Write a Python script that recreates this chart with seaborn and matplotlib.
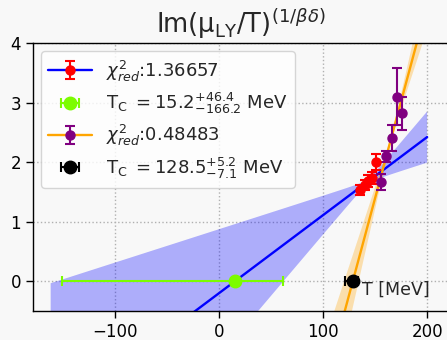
import numpy as np
import matplotlib
matplotlib.use('Agg')
import matplotlib.pyplot as plt
import seaborn as sns
from matplotlib.legend_handler import HandlerTuple

# ---------------- data ----------------
red_T = [135.0, 140.0, 143.5, 147.0, 150.5]
red_y = [1.53, 1.62, 1.68, 1.73, 2.00]
red_err = [0.08, 0.08, 0.10, 0.10, 0.14]

purple_T = [156.0, 160.3, 165.8, 170.6, 175.5]
purple_y = [1.67, 2.10, 2.40, 3.10, 2.82]
purple_err = [0.13, 0.09, 0.22, 0.48, 0.28]

# fit results (blue fit to red points, orange fit to purple points)
blue_Tc, blue_Tc_lo, blue_Tc_hi = 15.2, 166.2, 46.4
blue_slope, blue_slope_err, blue_pivot = 0.0131, 0.0075, 143.0
blue_range = [-162.0, 200.0]

orange_Tc, orange_Tc_lo, orange_Tc_hi = 128.5, 7.1, 5.2
orange_slope, orange_slope_err, orange_pivot = 0.065, 0.012, 165.0
orange_range = [105.0, 200.0]

labels = [r'$\chi^2_{red}$:1.36657',
          r'T$_{\rm C}$ $= 15.2^{+46.4}_{-166.2}$ MeV',
          r'$\chi^2_{red}$:0.48483',
          r'T$_{\rm C}$ $= 128.5^{+5.2}_{-7.1}$ MeV']
title = r'Im(μ$_{\rm LY}$/T)$^{(1/\beta\delta)}$'
x_ticks = [-100, 0, 100, 200]
y_ticks = [0, 1, 2, 3, 4]

# ---------------- styling ----------------
sns.set_theme(style='ticks')
plt.rcParams['font.family'] = ['DejaVu Sans']
bg = '#f8f8f8'

fig = plt.figure(figsize=(4.47, 3.40), dpi=100, facecolor=bg)
ax = fig.add_axes([0.0738, 0.0853, 0.9306, 0.7882])
ax.set_facecolor(bg)


def fit_curve(Tc, slope, slope_err, pivot, xr):
    x = np.linspace(xr[0], xr[1], 400)
    y = slope * (x - Tc)
    hw = np.sqrt((slope_err * (x - pivot)) ** 2 + 0.04 ** 2)
    return x, y, y - hw, y + hw


# blue fit + band
bx, by, blo, bhi = fit_curve(blue_Tc, blue_slope, blue_slope_err, blue_pivot, blue_range)
ax.fill_between(bx, blo, bhi, color='blue', alpha=0.3, lw=0, zorder=1)
sns.lineplot(x=bx, y=by, color='blue', lw=1.7, ax=ax, zorder=2)
blue_line = ax.lines[-1]

# orange fit + band
ox, oy, olo, ohi = fit_curve(orange_Tc, orange_slope, orange_slope_err, orange_pivot, orange_range)
ax.fill_between(ox, olo, ohi, color='orange', alpha=0.3, lw=0, zorder=1)
sns.lineplot(x=ox, y=oy, color='orange', lw=1.7, ax=ax, zorder=2)
orange_line = ax.lines[-1]

# data points
red_eb = ax.errorbar(red_T, red_y, yerr=red_err, fmt='o', color='red',
                     ms=6.5, elinewidth=1.5, capsize=3.5, capthick=1.5, zorder=4)
purple_eb = ax.errorbar(purple_T, purple_y, yerr=purple_err, fmt='o', color='purple',
                        ms=6.5, elinewidth=1.5, capsize=3.5, capthick=1.5, zorder=4)

# Tc estimates
green_eb = ax.errorbar([blue_Tc], [0], xerr=[[blue_Tc_lo], [blue_Tc_hi]], fmt='o',
                       color='lawngreen', ms=9, elinewidth=1.5, capsize=3.5,
                       capthick=1.5, zorder=5)
black_eb = ax.errorbar([orange_Tc], [0], xerr=[[orange_Tc_lo], [orange_Tc_hi]], fmt='o',
                       color='black', ms=9, elinewidth=1.5, capsize=3.5,
                       capthick=1.5, zorder=5)

ax.text(137.5, -0.14, 'T [MeV]', fontsize=12.5, ha='left', va='center', zorder=6)

ax.set_xlim(-179, 221)
ax.set_ylim(-0.5, 4)
ax.set_xticks(x_ticks)
ax.set_yticks(y_ticks)
ax.tick_params(axis='both', labelsize=12, length=5, width=1, color='black',
               direction='out', colors='black')
ax.grid(True, linestyle=':', color='#b0b0b0', lw=1)
for s in ax.spines.values():
    s.set_color('black')
    s.set_linewidth(1)
ax.set_title(title, fontsize=18.5, pad=7)

leg = ax.legend([(blue_line, red_eb), green_eb, (orange_line, purple_eb), black_eb],
                labels, handler_map={tuple: HandlerTuple(ndivide=1)},
                loc='upper left', fontsize=13, handlelength=2.4, labelspacing=0.4,
                borderaxespad=0.45,
                frameon=True, fancybox=True, framealpha=0.8, edgecolor='#cccccc',
                facecolor='white')

fig.savefig('out.png', dpi=100, facecolor=bg)
